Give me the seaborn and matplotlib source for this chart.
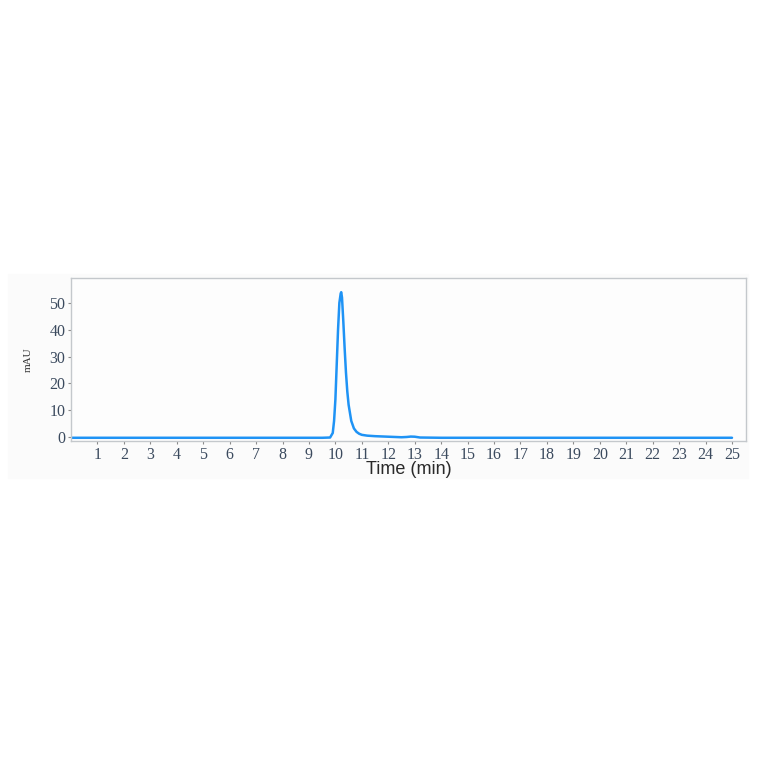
"""
Chromatogram trace - single peak near 10.2 min.
"""

import numpy as np
import pandas as pd
import matplotlib
matplotlib.use("Agg")
import matplotlib.pyplot as plt
import seaborn as sns

# ──────────────────────────────────────────────
# Data
# ──────────────────────────────────────────────

time_min = [0.0, 2.0, 4.0, 6.0, 8.0, 9.5, 9.8, 9.9, 9.95, 10.0, 10.05, 10.1,
            10.15, 10.2, 10.22, 10.25, 10.3, 10.35, 10.4, 10.45, 10.5, 10.6,
            10.7, 10.8, 10.9, 11.0, 11.2, 11.5, 12.0, 12.5, 12.7, 12.85, 13.0,
            13.2, 14.0, 16.0, 18.0, 20.0, 22.0, 24.0, 25.0]
mau = [-0.3, -0.3, -0.3, -0.3, -0.3, -0.3, -0.2, 1.5, 6.0, 14.0, 27.0, 40.0,
       50.0, 53.5, 54.0, 52.0, 43.0, 33.0, 24.0, 17.0, 12.0, 6.0,
       3.2, 1.9, 1.2, 0.8, 0.5, 0.3, 0.1, -0.1, 0.0, 0.15, 0.1,
       -0.2, -0.3, -0.3, -0.3, -0.3, -0.3, -0.3, -0.3]

x_ticks = list(range(1, 26))
y_ticks = [0, 10, 20, 30, 40, 50]

df = pd.DataFrame({"Time": time_min, "mAU": mau})

# ──────────────────────────────────────────────
# Plot
# ──────────────────────────────────────────────

sns.set_style("white")
plt.rcParams["font.family"] = ["Liberation Serif", "DejaVu Serif"]

fig = plt.figure(figsize=(7.64, 7.64), dpi=100)
fig.patch.set_facecolor("white")
# faint panel behind the chart
panel = plt.Rectangle((8 / 764, 1 - 478 / 764), 740 / 764, 204 / 764,
                      transform=fig.transFigure, color="#fbfbfb", zorder=-10)
fig.add_artist(panel)
ax = fig.add_axes([71 / 764, 1 - 441 / 764, 675 / 764, 163 / 764])
ax.set_facecolor("#fdfdfd")

sns.lineplot(data=df, x="Time", y="mAU", ax=ax, color="#1f93f5",
             linewidth=1.8, estimator=None)

ax.set_xlim(0, 25.53)
ax.set_ylim(-1.5, 59.3)
ax.set_xticks(x_ticks)
ax.set_yticks(y_ticks)
ax.tick_params(axis="both", which="major", bottom=True, left=True,
               direction="out", length=2.5, width=0.8, color="#8a8a8a",
               labelsize=11.5, labelcolor="#3b4a5e", pad=1.5)

for side in ["top", "right", "bottom", "left"]:
    ax.spines[side].set_visible(True)
    ax.spines[side].set_color("#c4c8cc")
    ax.spines[side].set_linewidth(1.0)

ax.set_xlabel("Time (min)", fontsize=13, family=["Liberation Sans", "DejaVu Sans"],
              color="#2a2a2a", labelpad=-1)
ax.set_ylabel("mAU", fontsize=8, color="#333333", labelpad=12)

fig.savefig("out.png", dpi=100)
